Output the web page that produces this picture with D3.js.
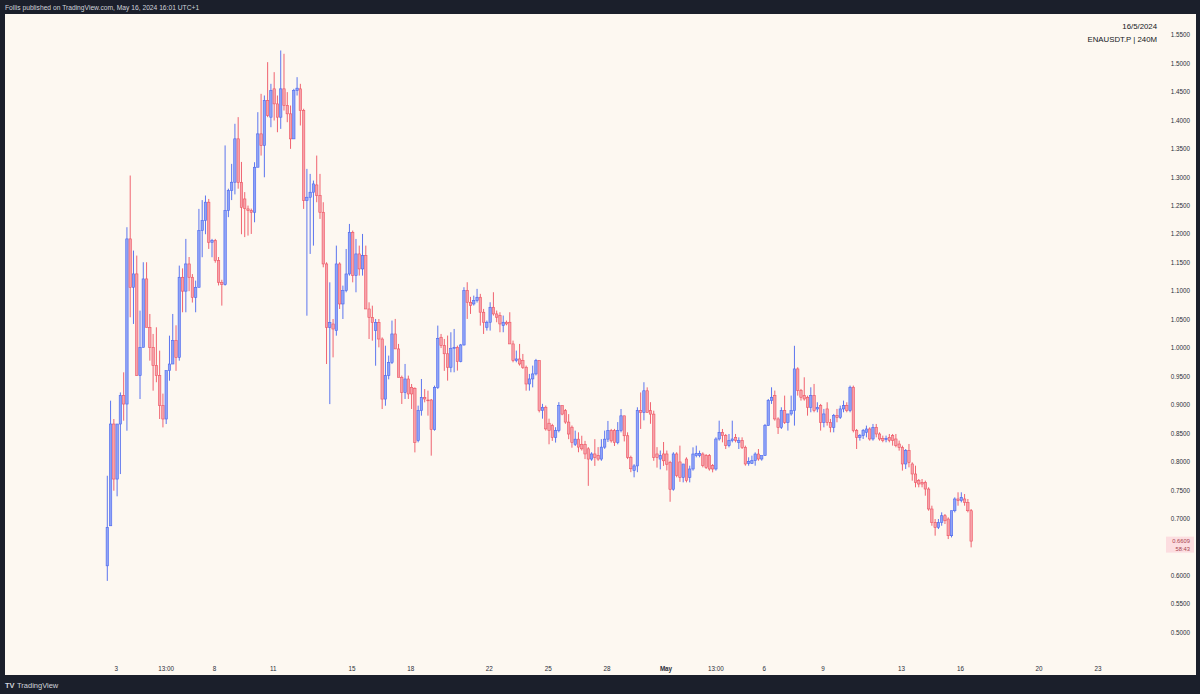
<!DOCTYPE html>
<html>
<head>
<meta charset="utf-8">
<script src="https://cdn.jsdelivr.net/npm/d3@7"></script>
<style>
  body { margin: 0; background: #1b1f2b; }
  svg { display: block; }
</style>
</head>
<body>
<div id="chart"></div>
<script>
// ENAUSDT.P 4h candles, first one opens 2 Apr 2024 13:00 (UTC+1 shown as-is)
const firstCandle = "2024-04-02T13:00"
const candleHours = 4

// [open, high, low, close]
const ohlc = [
  [.6175,.7757,.591,.685],[.6878,.9076,.6878,.8666],[.8666,.8754,.7494,.7699],[.7699,.8666,.7396,.8666],
  [.8666,.922,.7787,.9164],[.9164,.9574,.8724,.9017],[.9017,1.2123,.8548,1.1918],[1.1918,1.3031,1.0541,1.1068],
  [1.1068,1.1713,1.0424,1.1303],[1.1303,1.1625,.9515,.9515],[.9515,1.0658,.9105,1.0013],[1.0013,1.1508,1.0013,1.1215],
  [1.1215,1.1508,1.0365,1.0365],[1.0365,1.0599,.9779,1.0013],[1.0013,1.0248,.9252,.9691],[.9691,1.0365,.94,.9515],
  [.9515,.9955,.8754,.8988],[.8988,.92,.8607,.8754],[.8754,.9603,.8666,.9603],[.9603,1.0218,.9427,.972],
  [.972,1.0599,.972,1.0131],[1.0131,1.04,.96,.9838],[.9838,1.1449,.9779,1.1244],[1.1244,1.14,1.0629,1.10],
  [1.10,1.1918,1.0629,1.1478],[1.1478,1.16,1.10,1.1244],[1.1244,1.13,1.08,1.0892],[1.0892,1.1185,1.0629,1.1068],
  [1.1068,1.2445,1.1068,1.2064],[1.2064,1.26,1.1596,1.224],[1.224,1.268,1.2,1.2563],[1.2563,1.262,1.1742,1.1859],
  [1.1859,1.1918,1.1596,1.189],[1.189,1.1918,1.15,1.1537],[1.1537,1.16,1.11,1.1156],[1.1156,1.12,1.0746,1.1115],
  [1.1115,1.356,1.1098,1.2416],[1.2416,1.28,1.23,1.2768],[1.2768,1.3236,1.26,1.2914],[1.2914,1.394,1.27,1.3676],
  [1.3676,1.4057,1.28,1.291],[1.291,1.327,1.20,1.247],[1.262,1.274,1.195,1.245],[1.2445,1.2503,1.1976,1.2415],
  [1.2415,1.245,1.2005,1.2386],[1.2386,1.3265,1.221,1.3177],[1.3177,1.4144,1.3177,1.3763],[1.3763,1.4466,1.3382,1.3558],
  [1.3558,1.4437,1.3001,1.4349],[1.4349,1.5023,1.4056,1.4085],[1.4056,1.4642,1.388,1.4525],[1.4554,1.4847,1.3998,1.429],
  [1.429,1.4437,1.3792,1.4056],[1.4056,1.5228,1.3851,1.4554],[1.4554,1.517,1.4173,1.4261],[1.4261,1.4496,1.3968,1.4115],
  [1.4115,1.4261,1.35,1.3675],[1.3675,1.4554,1.3675,1.4525],[1.4525,1.4759,1.4437,1.4566],[1.4554,1.4642,1.391,1.4173],
  [1.4173,1.4204,1.2445,1.2591],[1.2591,1.3148,1.0569,1.265],[1.265,1.306,1.1654,1.2738],[1.2738,1.2943,1.18,1.2884],
  [1.2866,1.3382,1.2562,1.2679],[1.2679,1.306,1.2269,1.2386],[1.2386,1.2562,1.1419,1.1478],[1.1478,1.1507,.972,1.0364],
  [1.0364,1.1155,.9016,1.0452],[1.0423,1.0511,.9837,1.0335],[1.0306,1.18,1.0218,1.1478],[1.1478,1.1507,1.0687,1.0775],
  [1.0775,1.1097,1.0511,1.1009],[1.1009,1.1741,1.098,1.1302],[1.1302,1.2181,1.1273,1.2034],[1.2034,1.2064,1.1155,1.1273],
  [1.1273,1.1917,1.098,1.1654],[1.1654,1.18,1.1273,1.139],[1.139,1.2005,1.1273,1.1624],[1.1624,1.18,1.0687,1.0687],
  [1.0687,1.0804,1.0159,1.054],[1.054,1.0745,1.013,1.0452],[1.0306,1.0511,.969,1.0452],[1.0452,1.0511,1.0013,1.0159],
  [1.0159,1.0188,.8929,.9104],[.9104,1.0042,.8987,.9515],[.9515,.9868,.945,.975],[.975,1.0483,.972,1.0248],
  [1.0248,1.0512,.9985,.9985],[.9985,1.0073,.9487,.9487],[.9487,.9516,.9018,.9223],[.9223,.9721,.9106,.9457],
  [.9457,.9516,.9106,.9194],[.9311,.9369,.893,.9194],[.9293,.9311,.8168,.8344],[.8373,.8989,.8344,.89],
  [.89,.9457,.8813,.9135],[.9135,.928,.9047,.9106],[.9088,.9252,.8813,.9077],[.9088,.9106,.811,.8567],
  [.8567,.934,.8549,.9311],[.9311,1.0395,.9282,1.0172],[1.019,1.0248,1.0,1.0043],[1.0043,1.016,.96,.99],
  [.99,1.022,.9428,.9663],[.9663,1.0278,.9575,.9997],[.9997,1.0336,.9575,1.0014],[1.0014,1.0043,.9604,.9762],
  [.9762,1.0073,.975,1.0055],[1.0055,1.1069,1.0043,1.101],[1.101,1.1157,1.0512,1.0805],[1.0805,1.09,1.06,1.075],
  [1.0775,1.0922,1.0747,1.0835],[1.0835,1.104,1.08,1.0893],[1.0893,1.0952,1.0395,1.063],[1.063,1.0688,1.0248,1.0454],
  [1.0366,1.0483,1.0307,1.0454],[1.0454,1.0805,1.0307,1.0717],[1.0717,1.0981,1.0571,1.06],[1.06,1.0659,1.0454,1.0542],
  [1.0571,1.063,1.0278,1.0424],[1.0395,1.0571,1.0278,1.0454],[1.0454,1.0483,1.04,1.0424],[1.0454,1.063,1.0073,1.0073],
  [1.0073,1.0131,.975,.978],[.978,.9956,.975,.9809],[.9809,1.0073,.9692,.9721],[.978,.9897,.9633,.9663],
  [.9663,.9692,.9252,.9369],[.9369,.9546,.9252,.9458],[.9458,.9692,.931,.9546],[.9546,.981,.952,.978],
  [.978,.978,.887,.89],[.89,.902,.876,.896],[.896,.899,.855,.858],[.868,.876,.831,.855],
  [.864,.867,.837,.843],[.843,.861,.834,.855],[.855,.905,.852,.899],[.899,.899,.882,.884],
  [.89,.893,.867,.87],[.87,.884,.84,.849],[.861,.864,.825,.834],[.831,.855,.828,.84],
  [.84,.852,.817,.826],[.831,.846,.82,.823],[.831,.837,.805,.814],[.823,.826,.758,.805],
  [.805,.817,.802,.814],[.814,.84,.793,.808],[.811,.826,.802,.805],[.805,.84,.802,.826],
  [.826,.855,.823,.84],[.84,.872,.835,.855],[.855,.858,.834,.837],[.855,.858,.828,.834],
  [.834,.87,.831,.855],[.855,.893,.852,.881],[.881,.881,.836,.846],[.846,.852,.805,.808],
  [.808,.811,.782,.788],[.785,.796,.773,.793],[.793,.896,.782,.89],[.89,.922,.858,.887],
  [.887,.94,.873,.925],[.925,.931,.887,.887],[.89,.905,.867,.884],[.884,.89,.802,.808],
  [.814,.826,.79,.808],[.805,.82,.787,.811],[.814,.835,.793,.802],[.814,.82,.785,.796],
  [.799,.802,.73,.752],[.752,.817,.7495,.814],[.814,.817,.773,.776],[.80,.8286,.765,.7729],
  [.7729,.7964,.7641,.7964],[.8051,.8081,.7641,.7671],[.7729,.7934,.7641,.7876],[.7876,.8256,.7847,.8139],
  [.811,.8286,.8081,.8151],[.811,.8198,.8081,.8151],[.8139,.8168,.7905,.7934],[.811,.8139,.7876,.7905],
  [.811,.8139,.7847,.7876],[.7934,.7964,.7817,.7876],[.7876,.8432,.7847,.8403],[.8403,.8725,.8374,.852],
  [.852,.8579,.8344,.8462],[.8462,.8491,.8227,.8286],[.8286,.8491,.8256,.8374],[.8374,.8725,.8344,.8403],
  [.8432,.8491,.8344,.8374],[.8344,.8432,.8227,.8374],[.8374,.8432,.8227,.8256],[.8256,.8286,.7934,.7964],
  [.7975,.8081,.7934,.801],[.7975,.811,.7964,.8022],[.8022,.8168,.7934,.8139],[.8139,.8227,.8022,.8051],
  [.8051,.811,.8022,.811],[.811,.8667,.811,.8638],[.8638,.9106,.8638,.9077],[.9077,.9311,.9019,.9136],
  [.9165,.9253,.8725,.8755],[.8755,.8784,.8491,.8608],[.8608,.896,.8579,.8901],[.8901,.9165,.8667,.8696],
  [.8696,.8843,.855,.8843],[.8843,.9165,.8813,.8901],[.8901,1.004,.8638,.9634],[.9634,.9663,.9165,.9253],
  [.9253,.9282,.9077,.9136],[.9165,.9487,.9077,.9106],[.9136,.9165,.8813,.896],[.896,.9311,.8872,.9165],
  [.9165,.937,.8872,.8901],[.893,.9048,.8872,.896],[.8989,.9019,.855,.8696],[.8696,.8931,.8608,.8843],
  [.8931,.9048,.8638,.8696],[.8696,.8755,.852,.8608],[.8608,.8843,.852,.8813],[.8813,.8931,.8696,.8784],
  [.8784,.8989,.8755,.8931],[.8931,.9077,.8872,.8989],[.8989,.9048,.8872,.8901],[.8901,.9341,.8872,.9312],
  [.9312,.9341,.852,.855],[.855,.8579,.8227,.8432],[.8432,.8491,.8374,.8462],[.8462,.8579,.8403,.855],
  [.852,.8638,.8432,.8579],[.8579,.8608,.8374,.8403],[.8403,.8667,.8374,.8608],[.8608,.8667,.8432,.8491],
  [.8491,.852,.8374,.8403],[.8415,.8462,.8345,.8374],[.8391,.8462,.8345,.8415],[.8432,.8491,.8345,.8374],
  [.8462,.8491,.8286,.8374],[.8403,.8491,.8257,.8286],[.8315,.8374,.8198,.8257],[.8257,.8286,.7847,.7964],
  [.7964,.8227,.7876,.8198],[.8198,.8315,.7905,.7993],[.7964,.7993,.7671,.7788],[.7788,.7934,.7554,.7641],
  [.7671,.77,.7554,.7612],[.7641,.77,.7554,.7612],[.7641,.7671,.7407,.7524],[.7524,.7554,.7143,.7173],
  [.7173,.7231,.6879,.6938],[.6938,.6997,.6704,.685],[.685,.6997,.6821,.6938],[.6938,.7114,.6879,.7055],
  [.7055,.7085,.6909,.6967],[.6997,.7026,.6645,.6704],[.6704,.7143,.6674,.7143],[.7143,.7378,.7114,.7349],
  [.7349,.7466,.7231,.7319],[.7319,.7466,.729,.7378],[.7349,.7436,.7231,.729],[.729,.7349,.7114,.7143],
  [.7143,.7173,.6499,.6609]
]

const priceTicks = [0.50,0.55,0.60,0.65,0.70,0.75,0.80,0.85,0.90,0.95,1.00,1.05,1.10,1.15,1.20,1.25,1.30,1.35,1.40,1.45,1.50,1.55]
const timeTickDates = ["2024-04-03T00:00","2024-04-05T13:00","2024-04-08T00:00","2024-04-11T00:00","2024-04-15T00:00",
  "2024-04-18T00:00","2024-04-22T00:00","2024-04-25T00:00","2024-04-28T00:00","2024-05-01T00:00","2024-05-03T13:00",
  "2024-05-06T00:00","2024-05-09T00:00","2024-05-13T00:00","2024-05-16T00:00","2024-05-20T00:00","2024-05-23T00:00"]
const timeTickLabels = ["3","13:00","8","11","15","18","22","25","28","May","13:00","6","9","13","16","20","23"]

const lastPrice = "0.6609"
const countdown = "58:43"
const headerText = "Follis published on TradingView.com, May 16, 2024 16:01 UTC+1"
const dateText = "16/5/2024"
const symbolText = "ENAUSDT.P | 240M"

const width = 1200, height = 694
const plot = {left: 5, top: 14, right: 1196, bottom: 675}
const font = "'Liberation Sans', Arial, sans-serif"

const parse = d3.utcParse("%Y-%m-%dT%H:%M")
const t0 = parse(firstCandle)
const candles = ohlc.map((d, i) => ({
  time: new Date(+t0 + i * candleHours * 3600e3),
  open: d[0], high: d[1], low: d[2], close: d[3]
}))

const x = d3.scaleUtc()
    .domain([parse("2024-04-03T00:00"), parse("2024-05-16T00:00")])
    .range([116.3, 960.5])

const y = d3.scaleLinear()
    .domain([0.5, 1.55])
    .range([632.7, 35])

const svg = d3.select("#chart")
  .append("svg")
    .attr("width", width)
    .attr("height", height)

svg.append("rect")
    .attr("width", width)
    .attr("height", height)
    .attr("fill", "#1b1f2b")

svg.append("rect")
    .attr("x", plot.left)
    .attr("y", plot.top)
    .attr("width", plot.right - plot.left)
    .attr("height", plot.bottom - plot.top)
    .attr("fill", "#fdf8f1")

svg.append("text")
    .attr("x", 5)
    .attr("y", 9.5)
    .attr("fill", "#d1d4dc")
    .attr("font-family", font)
    .attr("font-size", 6.7)
    .text(headerText)

// top right legend
svg.append("text")
    .attr("x", 1157)
    .attr("y", 28.5)
    .attr("text-anchor", "end")
    .attr("fill", "#131722")
    .attr("font-family", font)
    .attr("font-size", 7.8)
    .text(dateText)

svg.append("text")
    .attr("x", 1157)
    .attr("y", 41.5)
    .attr("text-anchor", "end")
    .attr("fill", "#131722")
    .attr("font-family", font)
    .attr("font-size", 7.8)
    .text(symbolText)

// price axis (the label under the last-price tag is hidden, like on TradingView)
const tagY = y(+lastPrice)

svg.append("g")
    .attr("font-family", font)
    .attr("font-size", 6.3)
    .attr("fill", "#2a2e39")
  .selectAll("text")
  .data(priceTicks.filter(d => Math.abs(y(d) - tagY - 3.5) > 12))
  .join("text")
    .attr("x", 1190)
    .attr("y", d => y(d))
    .attr("dy", "0.35em")
    .attr("text-anchor", "end")
    .text(d3.format(".4f"))

// time axis
svg.append("g")
    .attr("font-family", font)
    .attr("font-size", 6.3)
    .attr("fill", "#2a2e39")
  .selectAll("text")
  .data(timeTickDates)
  .join("text")
    .attr("x", d => x(parse(d)))
    .attr("y", 670.5)
    .attr("text-anchor", "middle")
    .attr("font-weight", (d, i) => timeTickLabels[i] == "May" ? "bold" : null)
    .text((d, i) => timeTickLabels[i])

const upLine = "#4a66ee", upFill = "#8ea3f7"
const downLine = "#ee5261", downFill = "#f6a2aa"
const bodyW = 2.4

const candle = svg.append("g")
  .selectAll("g")
  .data(candles)
  .join("g")
    .attr("transform", d => `translate(${x(d.time)},0)`)

candle.append("line")
    .attr("y1", d => y(d.high))
    .attr("y2", d => y(d.low))
    .attr("stroke", d => d.close >= d.open ? upLine : downLine)
    .attr("stroke-width", 0.9)

candle.append("rect")
    .attr("x", -bodyW / 2)
    .attr("y", d => y(Math.max(d.open, d.close)))
    .attr("width", bodyW)
    .attr("height", d => Math.max(0.8, Math.abs(y(d.open) - y(d.close))))
    .attr("fill", d => d.close >= d.open ? upFill : downFill)
    .attr("stroke", d => d.close >= d.open ? upLine : downLine)
    .attr("stroke-width", 0.6)

// last price tag
svg.append("rect")
    .attr("x", 1166)
    .attr("y", tagY - 4.5)
    .attr("width", 28)
    .attr("height", 16)
    .attr("fill", "#fcdde0")

svg.append("text")
    .attr("x", 1190)
    .attr("y", tagY + 1.8)
    .attr("text-anchor", "end")
    .attr("font-family", font)
    .attr("font-size", 5.8)
    .attr("fill", "#a8434e")
    .text(lastPrice)

svg.append("text")
    .attr("x", 1190)
    .attr("y", tagY + 9.6)
    .attr("text-anchor", "end")
    .attr("font-family", font)
    .attr("font-size", 5.8)
    .attr("fill", "#a8434e")
    .text(countdown)

// bottom logo
svg.append("text")
    .attr("x", 5)
    .attr("y", 688)
    .attr("fill", "#d1d4dc")
    .attr("font-family", font)
    .attr("font-size", 7.5)
    .attr("font-weight", "bold")
    .text("TV")

svg.append("text")
    .attr("x", 17)
    .attr("y", 688)
    .attr("fill", "#d1d4dc")
    .attr("font-family", font)
    .attr("font-size", 7.5)
    .text("TradingView")
</script>
</body>
</html>
